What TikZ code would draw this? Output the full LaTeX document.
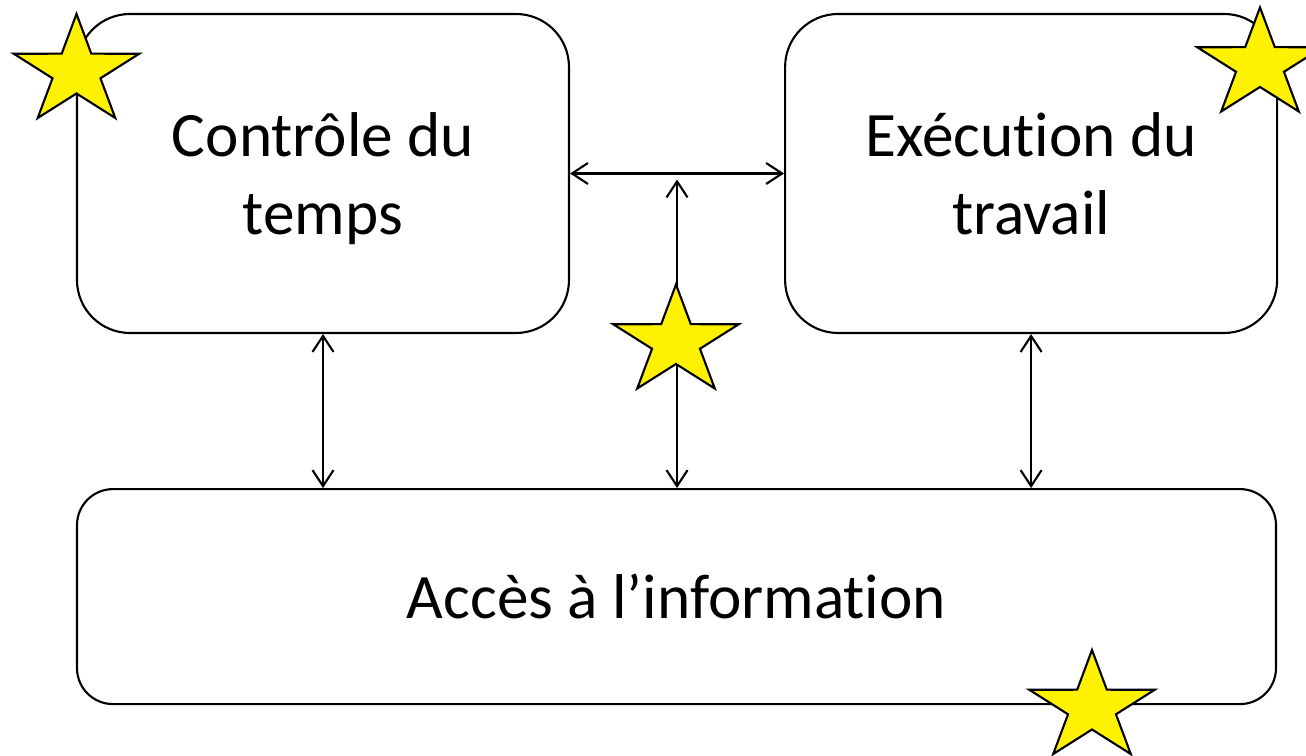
\documentclass[tikz,border=0pt]{standalone}
\usepackage{fontspec}
\setmainfont{Carlito}[Ligatures=NoCommon]
\usetikzlibrary{arrows.meta, positioning, calc}

% yellow five-pointed star, a little wider than tall
\tikzset{
  pics/etoile/.style={code={
    \draw[line width=0.6pt, fill=yellow] (90:6.6mm and 5.75mm)
      \foreach \a in {90,162,234,306}{ -- ({\a+36}:2.52mm and 2.2mm) -- ({\a+72}:6.6mm and 5.75mm)}
      -- (54:2.52mm and 2.2mm) -- cycle;
  }}
}

\begin{document}
\begin{tikzpicture}[
  x=0.1mm, y=0.1mm,
  node distance=21.4mm,
  bloc/.style={draw, line width=0.6pt, rounded corners=5.3mm, align=center, text depth=0pt,
    minimum width=49.2mm, minimum height=31.9mm, font=\fontsize{18}{22.3}\selectfont},
  fleche/.style={{Straight Barb[length=1.6mm,width=2.1mm]}-{Straight Barb[length=1.6mm,width=2.1mm]}, line width=0.6pt}
]
\clip (0,0) rectangle (1306,756);

\node[bloc] (temps) at (323,582.5) {Contrôle du\\temps};
\node[bloc, right=of temps] (travail) {Exécution du\\travail};
\node[bloc, below=15.4mm of temps.south west, anchor=north west,
  minimum width=119.9mm, minimum height=21.5mm, rounded corners=3.6mm] (info) {Accès à l’information};

\draw[fleche] (temps.east) -- (travail.west);
\draw[fleche] (temps.south) -- (temps.south |- info.north);
\draw[fleche] (travail.south) -- (travail.south |- info.north);
\coordinate (carrefour) at ($(temps.east)!.5!(travail.west)+(0,-6)$);
\draw[fleche] (carrefour) -- (carrefour |- info.north);

% stars on top
\pic (e1) at (76.5,684.5) {etoile};
\pic (e2) at (1260,691) {etoile};
\pic (e3) at (676,414) {etoile};
\pic (e4) at (1092,48.5) {etoile};
\end{tikzpicture}
\end{document}
